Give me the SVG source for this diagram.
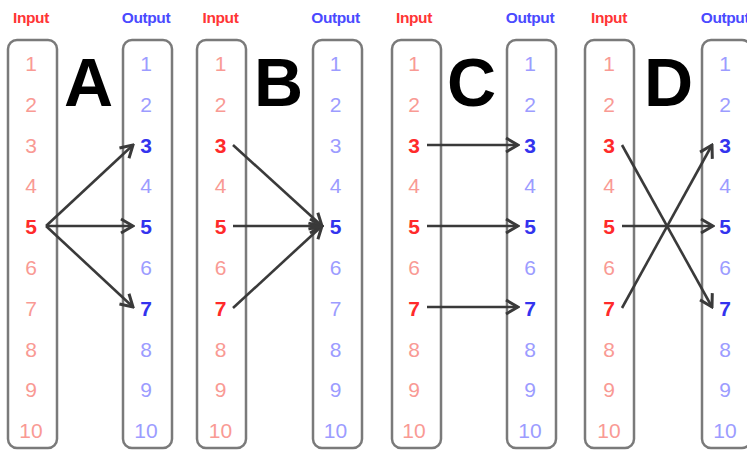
<svg xmlns="http://www.w3.org/2000/svg" width="747" height="451" viewBox="0 0 747 451">
<defs>
<style>
.box{fill:#fff;stroke:#7a7a7a;stroke-width:2.5}
.lbl{font-family:"Liberation Sans",Arial,sans-serif;font-size:15.5px;font-weight:bold;text-anchor:middle;letter-spacing:-0.4px}
.li{fill:#ff3535}
.lo{fill:#4a4aff}
.n{font-family:"Liberation Sans",Arial,sans-serif;font-size:21px;text-anchor:middle}
.ri{fill:#f99a94}
.ro{fill:#9c9cff}
.hi{fill:#ff2a2a;font-weight:bold}
.ho{fill:#3333ee;font-weight:bold}
.big{font-family:"Liberation Sans",Arial,sans-serif;font-size:68px;font-weight:bold;text-anchor:middle;fill:#000}
.c{stroke:#3a3a3a;stroke-width:2.6;fill:none;marker-end:url(#ah)}
</style>
<marker id="ah" markerUnits="userSpaceOnUse" viewBox="-14 -9 16 18" markerWidth="16" markerHeight="18" refX="0" refY="0" orient="auto">
<path d="M-12,-7 L0,0 L-12,7" fill="none" stroke="#3a3a3a" stroke-width="3" stroke-linejoin="miter"/>
</marker>
</defs>
<rect width="747" height="451" fill="#fff"/>

<!-- Panel A -->
<g id="panelA">
<text class="lbl li" x="31" y="23">Input</text>
<text class="lbl lo" x="146" y="23">Output</text>
<text class="big" x="88.5" y="106">A</text>
</g>
<g id="A-input">
<rect class="box" x="8" y="40" width="49" height="408" rx="9"/>
<text class="n ri" x="31" y="71">1</text>
<text class="n ri" x="31" y="112">2</text>
<text class="n ri" x="31" y="153">3</text>
<text class="n ri" x="31" y="193">4</text>
<text class="n hi" x="31" y="234">5</text>
<text class="n ri" x="31" y="275">6</text>
<text class="n ri" x="31" y="316">7</text>
<text class="n ri" x="31" y="357">8</text>
<text class="n ri" x="31" y="397">9</text>
<text class="n ri" x="31" y="438">10</text>
</g>
<g id="A-output">
<rect class="box" x="123" y="40" width="49" height="408" rx="9"/>
<text class="n ro" x="146" y="71">1</text>
<text class="n ro" x="146" y="112">2</text>
<text class="n ho" x="146" y="153">3</text>
<text class="n ro" x="146" y="193">4</text>
<text class="n ho" x="146" y="234">5</text>
<text class="n ro" x="146" y="275">6</text>
<text class="n ho" x="146" y="316">7</text>
<text class="n ro" x="146" y="357">8</text>
<text class="n ro" x="146" y="397">9</text>
<text class="n ro" x="146" y="438">10</text>
</g>

<!-- Panel B -->
<g id="panelB">
<text class="lbl li" x="220.5" y="23">Input</text>
<text class="lbl lo" x="335.5" y="23">Output</text>
<text class="big" x="278.5" y="106">B</text>
</g>
<g id="B-input">
<rect class="box" x="197" y="40" width="49" height="408" rx="9"/>
<text class="n ri" x="220.5" y="71">1</text>
<text class="n ri" x="220.5" y="112">2</text>
<text class="n hi" x="220.5" y="153">3</text>
<text class="n ri" x="220.5" y="193">4</text>
<text class="n hi" x="220.5" y="234">5</text>
<text class="n ri" x="220.5" y="275">6</text>
<text class="n hi" x="220.5" y="316">7</text>
<text class="n ri" x="220.5" y="357">8</text>
<text class="n ri" x="220.5" y="397">9</text>
<text class="n ri" x="220.5" y="438">10</text>
</g>
<g id="B-output">
<rect class="box" x="313" y="40" width="49" height="408" rx="9"/>
<text class="n ro" x="335.5" y="71">1</text>
<text class="n ro" x="335.5" y="112">2</text>
<text class="n ro" x="335.5" y="153">3</text>
<text class="n ro" x="335.5" y="193">4</text>
<text class="n ho" x="335.5" y="234">5</text>
<text class="n ro" x="335.5" y="275">6</text>
<text class="n ro" x="335.5" y="316">7</text>
<text class="n ro" x="335.5" y="357">8</text>
<text class="n ro" x="335.5" y="397">9</text>
<text class="n ro" x="335.5" y="438">10</text>
</g>

<!-- Panel C -->
<g id="panelC">
<text class="lbl li" x="414" y="23">Input</text>
<text class="lbl lo" x="530" y="23">Output</text>
<text class="big" x="471.5" y="106">C</text>
</g>
<g id="C-input">
<rect class="box" x="392" y="40" width="49" height="408" rx="9"/>
<text class="n ri" x="414" y="71">1</text>
<text class="n ri" x="414" y="112">2</text>
<text class="n hi" x="414" y="153">3</text>
<text class="n ri" x="414" y="193">4</text>
<text class="n hi" x="414" y="234">5</text>
<text class="n ri" x="414" y="275">6</text>
<text class="n hi" x="414" y="316">7</text>
<text class="n ri" x="414" y="357">8</text>
<text class="n ri" x="414" y="397">9</text>
<text class="n ri" x="414" y="438">10</text>
</g>
<g id="C-output">
<rect class="box" x="507" y="40" width="49" height="408" rx="9"/>
<text class="n ro" x="530" y="71">1</text>
<text class="n ro" x="530" y="112">2</text>
<text class="n ho" x="530" y="153">3</text>
<text class="n ro" x="530" y="193">4</text>
<text class="n ho" x="530" y="234">5</text>
<text class="n ro" x="530" y="275">6</text>
<text class="n ho" x="530" y="316">7</text>
<text class="n ro" x="530" y="357">8</text>
<text class="n ro" x="530" y="397">9</text>
<text class="n ro" x="530" y="438">10</text>
</g>

<!-- Panel D -->
<g id="panelD">
<text class="lbl li" x="609" y="23">Input</text>
<text class="lbl lo" x="725" y="23">Output</text>
<text class="big" x="668.5" y="106">D</text>
</g>
<g id="D-input">
<rect class="box" x="585" y="40" width="49" height="408" rx="9"/>
<text class="n ri" x="609" y="71">1</text>
<text class="n ri" x="609" y="112">2</text>
<text class="n hi" x="609" y="153">3</text>
<text class="n ri" x="609" y="193">4</text>
<text class="n hi" x="609" y="234">5</text>
<text class="n ri" x="609" y="275">6</text>
<text class="n hi" x="609" y="316">7</text>
<text class="n ri" x="609" y="357">8</text>
<text class="n ri" x="609" y="397">9</text>
<text class="n ri" x="609" y="438">10</text>
</g>
<g id="D-output">
<rect class="box" x="702" y="40" width="49" height="408" rx="9"/>
<text class="n ro" x="725" y="71">1</text>
<text class="n ro" x="725" y="112">2</text>
<text class="n ho" x="725" y="153">3</text>
<text class="n ro" x="725" y="193">4</text>
<text class="n ho" x="725" y="234">5</text>
<text class="n ro" x="725" y="275">6</text>
<text class="n ho" x="725" y="316">7</text>
<text class="n ro" x="725" y="357">8</text>
<text class="n ro" x="725" y="397">9</text>
<text class="n ro" x="725" y="438">10</text>
</g>

<g id="connectors">
<line class="c" x1="46" y1="226" x2="133" y2="145"/>
<line class="c" x1="46" y1="226" x2="133" y2="226"/>
<line class="c" x1="46" y1="226" x2="133" y2="307"/>
<line class="c" x1="233" y1="145" x2="322" y2="226"/>
<line class="c" x1="233" y1="226" x2="322" y2="226"/>
<line class="c" x1="233" y1="308" x2="322" y2="226"/>
<line class="c" x1="427" y1="145" x2="518" y2="145"/>
<line class="c" x1="427" y1="226" x2="518" y2="226"/>
<line class="c" x1="427" y1="307" x2="518" y2="307"/>
<line class="c" x1="622" y1="145" x2="712" y2="307"/>
<line class="c" x1="622" y1="226" x2="713" y2="226"/>
<line class="c" x1="622" y1="308" x2="712" y2="145"/>
</g>
</svg>
